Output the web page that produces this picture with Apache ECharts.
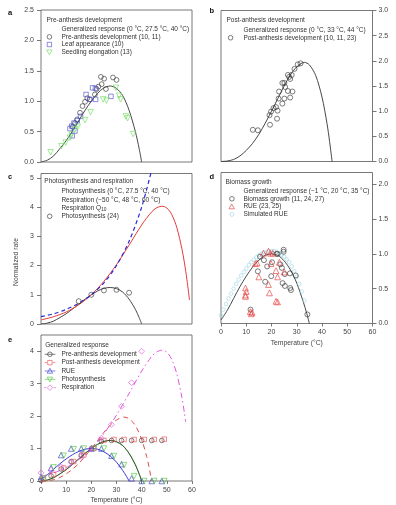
<!DOCTYPE html>
<html>
<head>
<meta charset="utf-8">
<script src="https://cdn.jsdelivr.net/npm/echarts@6/dist/echarts.min.js"></script>
<style>
  html, body { margin: 0; padding: 0; background: #fff; }
  #chart { width: 396px; height: 505px; }
</style>
</head>
<body>
<div id="chart"></div>
<script>
// generalized temperature responses, normalized to 1 at 20 °C
const devCurveT = [0, 2.5, 5, 7.5, 10, 12.5, 15, 17.5, 20, 22.5, 25, 27.5, 30, 32.5, 35, 37.5, 39, 40]
const devCurve = [0, 0.03, 0.10, 0.22, 0.35, 0.51, 0.68, 0.85, 1.00, 1.13, 1.22, 1.25, 1.21, 1.09, 0.85, 0.50, 0.22, 0]
const postCurveT = [0, 2.5, 5, 7.5, 10, 12.5, 15, 17.5, 20, 22.5, 25, 27.5, 30, 33, 35, 37.5, 40, 42, 43, 44]
const postCurve = [0, 0.01, 0.04, 0.11, 0.22, 0.36, 0.54, 0.76, 1.00, 1.25, 1.50, 1.72, 1.88, 1.97, 1.92, 1.71, 1.28, 0.75, 0.40, 0]
const bioCurveT = [0, 2.5, 5, 7.5, 10, 12.5, 15, 17.5, 20, 22.5, 25, 27.5, 30, 32.5, 34, 35]
const bioCurve = [0.05, 0.19, 0.36, 0.53, 0.68, 0.81, 0.91, 0.98, 1.00, 0.98, 0.90, 0.77, 0.58, 0.32, 0.14, 0]
const respCurveT = [0, 5, 10, 15, 20, 25, 30, 35, 40, 44, 46, 48, 50, 52, 54, 56, 57, 58, 59]
const respCurve = [0.14, 0.25, 0.41, 0.66, 1.00, 1.46, 2.03, 2.70, 3.39, 3.84, 3.98, 4.03, 3.97, 3.74, 3.29, 2.57, 2.09, 1.51, 0.82]
const respCurveET = [0, 5, 10, 15, 20, 25, 30, 35, 40, 44, 46, 48, 50, 52, 54, 56, 57, 57.5]
const respCurveE = [0.14, 0.25, 0.41, 0.66, 1.00, 1.46, 2.03, 2.70, 3.39, 3.84, 3.98, 4.03, 3.97, 3.74, 3.29, 2.57, 2.09, 1.82]
const q10T = [0, 5, 10, 15, 20, 25, 30, 35, 40, 44]
const q10Curve = [0.25, 0.35, 0.50, 0.71, 1.00, 1.41, 2.00, 2.83, 4.00, 5.28]

// a: observations
const preDevT = [12.6, 13.5, 14.4, 15.5, 16.5, 17.5, 18.4, 19.4, 21.4, 22.1, 22.8, 23.8, 24.1, 25.1, 25.8, 28.6, 30.0]
const preDevV = [0.58, 0.64, 0.70, 0.81, 0.92, 0.99, 1.05, 1.03, 1.11, 1.20, 1.24, 1.40, 1.28, 1.37, 1.20, 1.39, 1.35]
const leafT = [11.5, 12.2, 12.4, 13.1, 13.5, 14.4, 15.7, 17.9, 19.4, 20.5, 21.6, 21.7, 27.8]
const leafV = [0.55, 0.59, 0.43, 0.64, 0.51, 0.68, 0.75, 1.11, 1.03, 1.22, 1.21, 1.03, 1.08]
const seedT = [3.8, 8.1, 9.8, 11.5, 12.2, 13.5, 14.6, 17.5, 19.7, 24.7, 26.0, 29.8, 31.0, 31.6, 33.7, 34.4, 36.6]
const seedV = [0.16, 0.26, 0.32, 0.40, 0.45, 0.54, 0.58, 0.69, 0.82, 1.03, 1.01, 1.22, 1.09, 1.03, 0.75, 0.72, 0.46]
// b
const postT = [12.6, 14.6, 19.2, 19.4, 19.8, 20.8, 21.8, 22.2, 22.4, 22.8, 23.0, 24.3, 24.3, 25.1, 25.1, 25.4, 26.5, 26.5, 27.0, 27.4, 27.4, 28.0, 28.3, 29.1, 30.4, 31.5]
const postV = [0.63, 0.62, 0.92, 0.73, 0.99, 1.06, 1.08, 0.85, 1.01, 1.25, 1.39, 1.15, 1.56, 1.25, 1.56, 1.48, 1.40, 1.72, 1.68, 1.27, 1.64, 1.72, 1.39, 1.84, 1.93, 1.95]
// c
const photoT = [15, 20, 25, 30, 35]
const photoV = [0.78, 1.00, 1.15, 1.17, 1.07]
// d
const bioT = [11.7, 14.6, 15.5, 17.0, 17.5, 18.3, 19.9, 20.2, 22.0, 22.4, 23.5, 24.1, 24.4, 24.8, 24.8, 25.3, 25.3, 27.3, 27.4, 27.7, 29.6, 34.2]
const bioV = [0.20, 0.75, 0.96, 0.91, 0.60, 0.82, 0.68, 0.88, 1.00, 1.00, 0.85, 0.80, 0.58, 1.06, 1.03, 0.71, 0.54, 0.72, 0.51, 0.48, 0.69, 0.13]
const rueT = [9.7, 10.0, 9.7, 9.7, 11.6, 12.3, 12.0, 13.6, 14.3, 15.0, 16.8, 18.8, 19.6, 20.5, 19.8, 18.8, 19.2, 21.8, 22.4, 21.8, 22.4, 23.1, 25.0]
const rueV = [0.51, 0.46, 0.41, 0.39, 0.17, 0.16, 0.14, 0.86, 0.87, 0.67, 1.01, 1.04, 1.01, 1.01, 0.86, 0.56, 0.44, 0.32, 0.31, 0.76, 0.67, 0.88, 0.74]
const simRueT = [0, 1, 2, 3, 4, 5, 6, 7, 8, 9, 10, 11, 12, 13, 14, 15, 16, 17, 18, 19, 20, 21, 22, 23, 24, 25, 26, 27, 28, 29, 30, 31, 32, 33]
const simRueV = [0.12, 0.20, 0.28, 0.36, 0.43, 0.50, 0.57, 0.63, 0.69, 0.74, 0.79, 0.84, 0.88, 0.92, 0.95, 0.98, 1.00, 1.02, 1.03, 1.04, 1.04, 1.04, 1.03, 1.01, 0.99, 0.96, 0.92, 0.88, 0.82, 0.75, 0.67, 0.57, 0.46, 0.33]
// e: symbols on the generalized responses
const eEvenT = [0, 4, 8, 12, 16, 20, 24, 28, 32, 36, 40, 44, 48]
const eOddT = [1, 5, 9, 13, 17, 21, 25, 29, 33, 37, 41, 45, 49]
const ePreV = [0.02, 0.16, 0.37, 0.60, 0.80, 1.00, 1.22, 1.25, 1.25, 1.25, 1.25, 1.25, 1.25]
const ePostV = [0.05, 0.20, 0.40, 0.60, 0.80, 1.00, 1.25, 1.28, 1.28, 1.28, 1.28, 1.28, 1.29]
const eRueV = [0.12, 0.40, 0.80, 1.00, 1.00, 1.00, 1.00, 0.78, 0.52, 0.08, 0, 0, 0]
const ePhotoV = [0.08, 0.42, 0.78, 0.98, 1.00, 1.00, 1.00, 0.77, 0.49, 0.15, 0, 0, 0]
const eRespT = [0, 4, 8, 12, 16, 20, 24, 28, 32, 36, 40]
const eRespV = [0.25, 0.33, 0.44, 0.57, 0.76, 1.00, 1.32, 1.74, 2.30, 3.03, 4.00]

// tick labels
const tempTicks = [0, 10, 20, 30, 40, 50, 60]
const aTicks = [0, 0.5, 1, 1.5, 2, 2.5]
const bTicks = [0, 0.5, 1, 1.5, 2, 2.5, 3]
const cTicks = [0, 1, 2, 3, 4, 5]
const dTicks = [0, 0.5, 1, 1.5, 2]
const eTicks = [0, 1, 2, 3, 4]

const pairs = (xs, ys) => xs.map((x, i) => [x, ys[i]])

const line = { color: '#555', width: 0.8 }

function xAxis(i, labeled) {
  return {
    gridIndex: i, type: 'value', min: 0, max: 60, interval: 10,
    axisLine: { show: false, onZero: false },
    axisTick: { show: labeled, length: 3, customValues: tempTicks, lineStyle: line },
    axisLabel: { show: labeled, fontSize: 7, color: '#444', margin: 5.5, customValues: tempTicks },
    splitLine: { show: false },
    name: labeled ? 'Temperature (°C)' : '',
    nameLocation: 'middle', nameGap: 16,
    nameTextStyle: { fontSize: 6.8, color: '#444' }
  }
}

function yAxis(i, position, max, step, ticks, digits) {
  return {
    gridIndex: i, type: 'value', position, min: 0, max, interval: step,
    axisLine: { show: false, onZero: false },
    axisTick: { length: 4, customValues: ticks, lineStyle: line },
    axisLabel: {
      fontSize: 7, color: '#444', margin: position === 'left' ? 7 : 6,
      customValues: ticks, formatter: v => v.toFixed(digits)
    },
    splitLine: { show: false }
  }
}

function curve(name, g, xs, ys, color, width, type) {
  return {
    name, type: 'line', xAxisIndex: g, yAxisIndex: g, data: pairs(xs, ys),
    symbol: 'none', showSymbol: false, smooth: 0.3, color,
    lineStyle: { color, width, type: type || 'solid' }, silent: true, z: 3
  }
}

function dots(name, g, xs, ys, symbol, size, color, rotate) {
  return {
    name, type: 'scatter', xAxisIndex: g, yAxisIndex: g, data: pairs(xs, ys),
    symbol, symbolSize: size, symbolRotate: rotate || 0, color,
    itemStyle: { color: 'rgba(0,0,0,0)', borderColor: color, borderWidth: 0.8 },
    silent: true, z: 4
  }
}

// legend icon paths, drawn in a box of width w and height 6
const seg = (a, b) => `M${a},0H${b}`
const circ = (c, r) => `M${c + r},0A${r},${r},0,1,1,${c - r},0A${r},${r},0,1,1,${c + r},0Z`
const sq = (c, s) => `M${c - s},${-s}H${c + s}V${s}H${c - s}Z`
const triDown = c => `M${c - 2.7},-2.2H${c + 2.7}L${c},2.7Z`
const triUp = c => `M${c - 2.7},2.2H${c + 2.7}L${c},-2.7Z`
const diam = c => `M${c},-2.8L${c + 2.8},0L${c},2.8L${c - 2.8},0Z`
const icon = (w, body) => `path://M0,-3M${w},3${body}`

function legend(left, top, rowH, w, data) {
  return {
    orient: 'vertical', left, top, padding: 0, itemGap: 0,
    itemWidth: w, itemHeight: 6, selectedMode: false, symbolKeepAspect: true,
    itemStyle: { color: 'rgba(0,0,0,0)', borderWidth: 0.8 },
    textStyle: {
      fontSize: 6.5, color: '#333', lineHeight: rowH,
      rich: { s: { fontSize: 4.8, lineHeight: rowH, verticalAlign: 'bottom', color: '#333' } }
    },
    formatter: n => n.replace('Q10', 'Q{s|10}'),
    data
  }
}

function heading(text, left, centerY) {
  return { text, left, top: centerY - 4, padding: 0, textStyle: { fontSize: 6.5, fontWeight: 'normal', color: '#333', lineHeight: 8 } }
}

const black = '#333'
const sqBlue = '#4b4bd0'
const lightGreen = '#6bdc5a'
const red = '#e33b3b'
const dashBlue = '#2b2bd6'
const cyan = '#9fd6e3'
const eRed = '#e24b4b'
const eBlue = '#3b3bd4'
const eGreen = '#4fc83f'
const magenta = '#e055e0'

const chart = echarts.init(document.getElementById('chart'), null, { renderer: 'canvas' })
chart.setOption({
  animation: false,
  textStyle: { fontFamily: 'Liberation Sans, Arial, sans-serif' },
  title: [
    heading('Pre-anthesis development', 46.5, 20),
    heading('Post-anthesis development', 226.5, 20),
    heading('Photosynthesis and respiration', 44.3, 181.7),
    heading('Biomass growth', 225.5, 182.3),
    heading('Generalized response', 45.3, 345)
  ],
  grid: [
    { left: 41, top: 10, width: 151, height: 152 },
    { left: 221, top: 10.5, width: 151.5, height: 151 },
    { left: 41, top: 173.5, width: 151, height: 150.5 },
    { left: 221, top: 172.5, width: 151.5, height: 151 },
    { left: 41, top: 335, width: 151, height: 151 }
  ].map(g => Object.assign(g, { show: true, borderColor: '#555', borderWidth: 0.8, backgroundColor: 'transparent' })),
  xAxis: [xAxis(0, false), xAxis(1, false), xAxis(2, false), xAxis(3, true), xAxis(4, true)],
  yAxis: [
    yAxis(0, 'left', 2.5, 0.5, aTicks, 1),
    yAxis(1, 'right', 3, 0.5, bTicks, 1),
    yAxis(2, 'left', 5.15, 1, cTicks, 0),
    yAxis(3, 'right', 2.17, 0.5, dTicks, 1),
    yAxis(4, 'left', 4.5, 1, eTicks, 0)
  ],
  legend: [
    legend(43, 25.5, 7.6, 13, [
      { name: 'Generalized response (0 °C, 27.5 °C, 40 °C)', icon: icon(13, seg(1.3, 10.3)) },
      { name: 'Pre-anthesis development (10, 11)', icon: icon(13, circ(6, 2.3)) },
      { name: 'Leaf appearance (10)', icon: icon(13, sq(6, 2.2)) },
      { name: 'Seedling elongation (13)', icon: icon(13, triDown(6)) }
    ]),
    legend(225, 26.2, 7.7, 13, [
      { name: 'Generalized response (0 °C, 33 °C, 44 °C)', icon: icon(13, seg(1.7, 9.3)) },
      { name: 'Post-anthesis development (10, 11, 23)', icon: icon(13, circ(5.2, 2.3)) }
    ]),
    legend(40, 187.6, 8.2, 16, [
      { name: 'Photosynthesis (0 °C, 27.5 °C, 40 °C)', icon: icon(16, seg(3.3, 14.3)) },
      { name: 'Respiration (−50 °C, 48 °C, 60 °C)', icon: icon(16, seg(1, 14)), itemStyle: { borderWidth: 2 } },
      { name: 'Respiration Q10', icon: icon(16, seg(3.3, 6.7) + seg(10.7, 14)), itemStyle: { borderWidth: 1.1 } },
      { name: 'Photosynthesis (24)', icon: icon(16, circ(9.3, 2.3)) }
    ]),
    legend(225, 187.1, 7.8, 13, [
      { name: 'Generalized response (−1 °C, 20 °C, 35 °C)', icon: icon(13, seg(1.7, 11)) },
      { name: 'Biomass growth (11, 24, 27)', icon: icon(13, circ(6.5, 2.3)) },
      { name: 'RUE (23, 25)', icon: icon(13, triUp(6.3)) },
      { name: 'Simulated RUE', icon: icon(13, circ(6.5, 2)) }
    ]),
    legend(43, 350.1, 8.35, 13, [
      { name: 'Pre-anthesis development', icon: icon(13, seg(1.3, 12) + circ(6.5, 2.3)) },
      { name: 'Post-anthesis development', icon: icon(13, seg(1.3, 3.6) + seg(9.4, 12) + sq(6.5, 2.2)) },
      { name: 'RUE', icon: icon(13, seg(1.3, 12) + triUp(6.5)) },
      { name: 'Photosynthesis', icon: icon(13, seg(1.3, 12) + triDown(6.5)) },
      { name: 'Respiration', icon: icon(13, seg(0.5, 2.6) + seg(10.4, 12.5) + diam(6.5)) }
    ])
  ],
  graphic: [
    ['a', 10, 12.7], ['b', 211.7, 10.7], ['c', 10, 176.7], ['d', 211.7, 176.7], ['e', 10, 340]
  ].map(([t, x, y]) => ({
    type: 'text', x, y, silent: true,
    style: { text: t, fontSize: 7.5, fontWeight: 'bold', fill: '#111', align: 'center', verticalAlign: 'middle', fontFamily: 'Liberation Sans, Arial, sans-serif' }
  })).concat([{
    type: 'text', x: 16, y: 262, rotation: Math.PI / 2, silent: true,
    style: { text: 'Normalized rate', fontSize: 6.8, fill: '#444', align: 'center', verticalAlign: 'middle', fontFamily: 'Liberation Sans, Arial, sans-serif' }
  }]),
  series: [
    // a
    curve('Generalized response (0 °C, 27.5 °C, 40 °C)', 0, devCurveT, devCurve, black, 0.9),
    dots('Pre-anthesis development (10, 11)', 0, preDevT, preDevV, 'circle', 4.8, black),
    dots('Leaf appearance (10)', 0, leafT, leafV, 'rect', 4.5, sqBlue),
    dots('Seedling elongation (13)', 0, seedT, seedV, 'triangle', 5.5, lightGreen, 180),
    // b
    curve('Generalized response (0 °C, 33 °C, 44 °C)', 1, postCurveT, postCurve, black, 0.9),
    dots('Post-anthesis development (10, 11, 23)', 1, postT, postV, 'circle', 5, black),
    // c
    curve('Photosynthesis (0 °C, 27.5 °C, 40 °C)', 2, devCurveT, devCurve, black, 0.9),
    curve('Respiration (−50 °C, 48 °C, 60 °C)', 2, respCurveT, respCurve, red, 1),
    curve('Respiration Q10', 2, q10T, q10Curve, dashBlue, 1.2, [4, 3]),
    dots('Photosynthesis (24)', 2, photoT, photoV, 'circle', 5, black),
    // d
    dots('Simulated RUE', 3, simRueT, simRueV, 'circle', 3.6, cyan),
    curve('Generalized response (−1 °C, 20 °C, 35 °C)', 3, bioCurveT, bioCurve, black, 0.9),
    dots('Biomass growth (11, 24, 27)', 3, bioT, bioV, 'circle', 5, black),
    dots('RUE (23, 25)', 3, rueT, rueV, 'triangle', 5.8, red),
    // e
    curve('e photosynthesis curve', 4, devCurveT, devCurve, eGreen, 1),
    curve('e pre-anthesis curve', 4, devCurveT, devCurve, black, 0.8),
    curve('e post-anthesis curve', 4, postCurveT, postCurve, eRed, 1, [5, 4]),
    curve('e RUE curve', 4, bioCurveT, bioCurve, eBlue, 1),
    curve('e respiration curve', 4, respCurveET, respCurveE, magenta, 1, [6, 3, 1.5, 3]),
    dots('Pre-anthesis development', 4, eEvenT, ePreV, 'circle', 4.6, black),
    dots('Post-anthesis development', 4, eOddT, ePostV, 'rect', 4.5, eRed),
    dots('RUE', 4, eEvenT, eRueV, 'triangle', 5.5, eBlue),
    dots('Photosynthesis', 4, eOddT, ePhotoV, 'triangle', 5.5, eGreen, 180),
    dots('Respiration', 4, eRespT, eRespV, 'diamond', 5.8, magenta)
  ]
})
</script>
</body>
</html>
